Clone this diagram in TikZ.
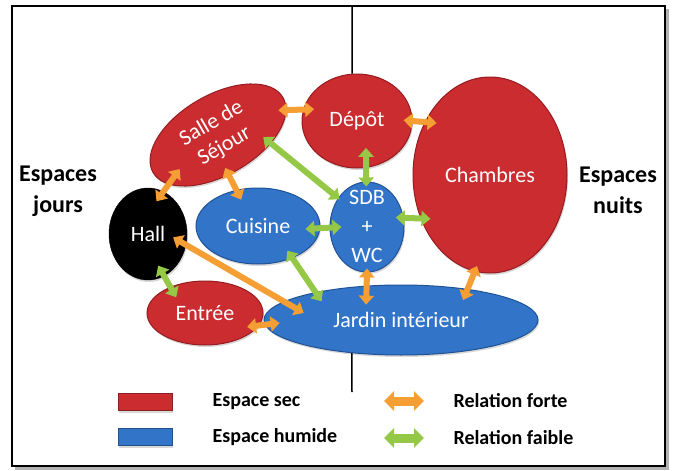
\documentclass[tikz,border=0pt]{standalone}
\usepackage{fontspec}
\setmainfont{Carlito}
\usetikzlibrary{arrows.meta,shapes.geometric,shadows}

\definecolor{secred}{RGB}{202,44,48}
\definecolor{secedge}{RGB}{150,28,32}
\definecolor{humblue}{RGB}{50,116,200}
\definecolor{humedge}{RGB}{32,82,150}
\definecolor{forteor}{RGB}{244,158,52}
\definecolor{faiblegr}{RGB}{148,200,70}

\newcommand\roomtext[1]{\smash{\raisebox{-0.25em}{\begin{tabular}{@{}c@{}}#1\end{tabular}}}}

\tikzset{
  room/.style={ellipse, inner sep=0pt, text=white, font=\fontsize{22}{26}\selectfont,
    drop shadow={opacity=0.3, shadow xshift=1pt, shadow yshift=-2pt}},
  sec/.style={room, fill=secred, draw=secedge, line width=1pt},
  humide/.style={room, fill=humblue, draw=humedge, line width=1pt},
  forte/.style={draw=forteor, line width=6pt,
    {Triangle[width=15pt,length=9pt]}-{Triangle[width=15pt,length=9pt]}},
  faible/.style={forte, draw=faiblegr},
  legarrow/.style={line width=9pt,
    {Triangle[width=19pt,length=10pt]}-{Triangle[width=19pt,length=10pt]}},
  side/.style={font=\bfseries\fontsize{24}{31}\selectfont, align=center},
  legtext/.style={anchor=west, font=\bfseries\fontsize{20}{24}\selectfont},
}

\begin{document}
\begin{tikzpicture}[x=1pt, y=-1pt]
    \useasboundingbox (0,0) rectangle (673,471);
    \fill[gray!60] (15,9) rectangle (669,470);
    \draw[line width=2pt, fill=white] (12,6) rectangle (665,466);

    \node[sec, minimum width=150pt, minimum height=80pt, rotate=30, align=center] (salle) at (218,135) {Salle de\\Séjour};
    \node[sec, minimum width=110pt, minimum height=94pt] (dep) at (357,121) {Dépôt};
    \node[sec, minimum width=154pt, minimum height=196pt] (cham) at (490,175) {Chambres};
    \node[humide, minimum width=74pt, minimum height=90pt, font=\fontsize{22}{29}\selectfont] (sdb) at (367,227) {\roomtext{SDB\\+\\WC}};
    \node[humide, minimum width=124pt, minimum height=76pt] (cui) at (258,226) {Cuisine};
    \node[room, fill=black, draw=black, minimum width=78pt, minimum height=92pt] (hall) at (148,234) {Hall};
    \node[sec, minimum width=116pt, minimum height=64pt] (ent) at (205,313) {Entrée};
    \node[humide, minimum width=274pt, minimum height=70pt] (jard) at (401,320) {Jardin intérieur};

    \coordinate (divtop) at (352,6);
    \coordinate (divbot) at (352,392);
    \draw[line width=1.5pt] (divtop) -- (dep.96);
    \draw[line width=1.5pt] (divbot) -- (jard.214);

    \draw[forte, shorten <=-8pt, shorten >=-11pt] (salle.350) -- (dep.168);
    \draw[forte, shorten <=-9pt, shorten >=-12pt] (dep.0) -- (cham.141);
    \draw[forte, shorten <=-19pt, shorten >=-12pt] (salle.195) -- (hall.70);
    \draw[forte, shorten <=-8pt, shorten >=-11pt] (salle.255) -- (cui.121);
    \draw[faible, shorten <=-10pt, shorten >=-2pt] (salle.321) -- (sdb.135);
    \draw[faible, shorten <=-20pt, shorten >=-5pt] (dep.281) -- (sdb.91);
    \draw[faible, shorten <=-15pt, shorten >=-12pt] (cui.358) -- (sdb.181);
    \draw[faible, shorten <=-8pt, shorten >=-10pt] (sdb.14) -- (cham.212);
    \draw[forte, shorten <=-15pt, shorten >=-23pt] (hall.344) -- (jard.171);
    \draw[faible, shorten <=-12pt, shorten >=-12pt] (hall.291) -- (ent.143);
    \draw[faible, shorten <=-9pt, shorten >=-11pt] (cui.317) -- (jard.162);
    \draw[forte, shorten <=-4pt, shorten >=-19pt] (sdb.270) -- (jard.135);
    \draw[forte, shorten <=-6pt, shorten >=-12pt] (cham.261) -- (jard.25);
    \draw[forte, shorten <=-12pt, shorten >=-15pt] (ent.347) -- (jard.182);

    \node[side] (jours) at (58,191) {Espaces\\jours};
    \node[side] (nuits) at (618,190) {Espaces\\nuits};

    \foreach \y/\col/\txt [count=\k] in {402/secred/Espace sec, 437/humblue/Espace humide} {
      \node[fill=\col, draw=\col!70!black, minimum width=54pt, minimum height=17pt, inner sep=0pt,
        drop shadow={opacity=0.3, shadow xshift=1pt, shadow yshift=-2pt}] (box\k) at (145,\y) {};
      \node[legtext] (boxlbl\k) at (209,\y) {\txt};
    }
    \foreach \y/\col/\txt [count=\k] in {401/forteor/Relation forte, 438/faiblegr/Relation faible} {
      \coordinate (relA\k) at (384,\y);
      \coordinate (relB\k) at (424,\y);
      \draw[legarrow, draw=\col] (relA\k) -- (relB\k);
      \node[legtext] (rellbl\k) at (450,\y) {\txt};
    }
\end{tikzpicture}
\end{document}
